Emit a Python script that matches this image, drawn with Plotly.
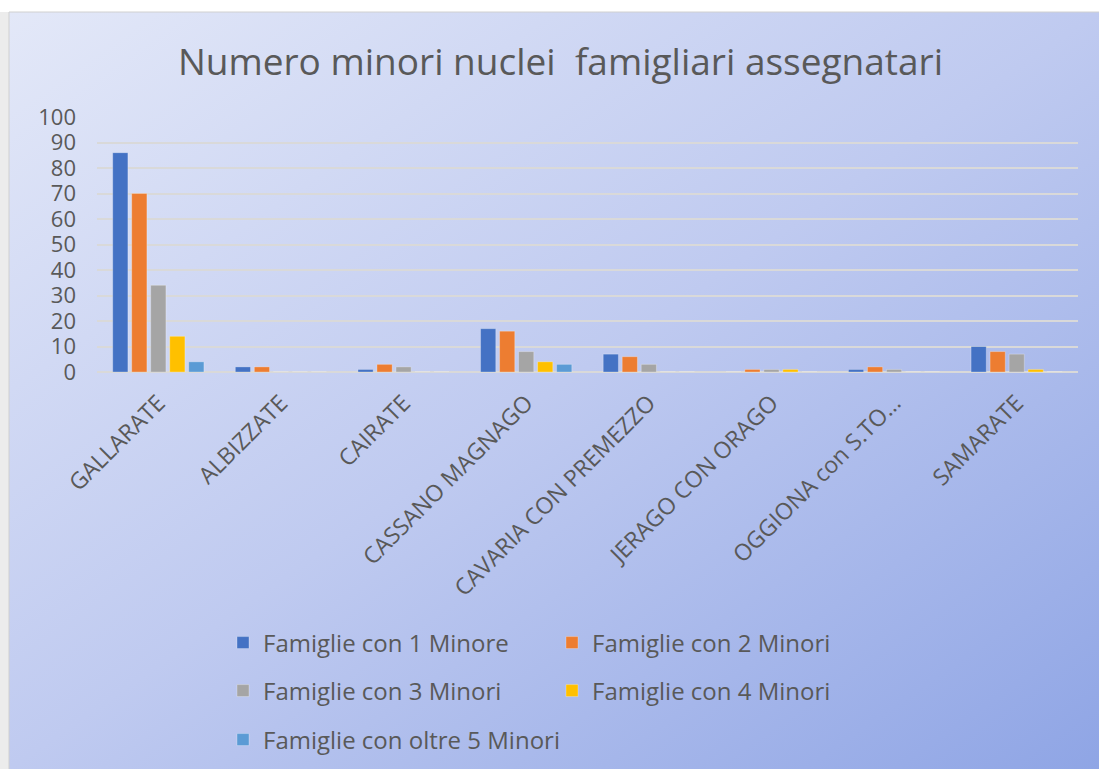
import base64
import plotly.graph_objects as go

# Comuni (categorie sull'asse x)
comuni = [
    "GALLARATE", "ALBIZZATE", "CAIRATE", "CASSANO MAGNAGO",
    "CAVARIA CON PREMEZZO", "JERAGO CON ORAGO", "OGGIONA con S.TO…", "SAMARATE",
]

# Numero di nuclei familiari per numero di minori
famiglie_1_minore = [86, 2, 1, 17, 7, 0, 1, 10]
famiglie_2_minori = [70, 2, 3, 16, 6, 1, 2, 8]
famiglie_3_minori = [34, 0, 2, 8, 3, 1, 1, 7]
famiglie_4_minori = [14, 0, 0, 4, 0, 1, 0, 1]
famiglie_oltre_5_minori = [4, 0, 0, 3, 0, 0, 0, 0]

y_ticks = list(range(0, 101, 10))

series = [
    ("Famiglie con 1 Minore", famiglie_1_minore, "#4472c4", "legend"),
    ("Famiglie con 2 Minori", famiglie_2_minori, "#ed7d31", "legend"),
    ("Famiglie con 3 Minori", famiglie_3_minori, "#a5a5a5", "legend2"),
    ("Famiglie con 4 Minori", famiglie_4_minori, "#ffc000", "legend2"),
    ("Famiglie con oltre 5 Minori", famiglie_oltre_5_minori, "#5b9bd5", "legend3"),
]

TEXT = "#595959"
FONT = "Open Sans"
W, H = 1099, 769
ML, MR, MT, MB = 97, 21, 117, 397
plot_w = W - ML - MR
plot_h = H - MT - MB


def px_x(px):
    return (px - ML) / plot_w


def px_y(py):
    return (H - MB - py) / plot_h


fig = go.Figure()
for name, vals, color, leg in series:
    fig.add_trace(go.Bar(
        x=comuni, y=vals, name=name, legend=leg,
        marker=dict(color=color, line=dict(color="rgba(255,255,255,0.35)", width=0.8)),
    ))

# Sfondo a gradiente diagonale dell'area grafico
svg = (
    '<svg xmlns="http://www.w3.org/2000/svg" width="1091" height="757" '
    'viewBox="0 0 1091 757" preserveAspectRatio="none">'
    '<defs><linearGradient id="g" x1="0" y1="0" x2="1" y2="1">'
    '<stop offset="0" stop-color="#e3e8f8"/>'
    '<stop offset="0.5" stop-color="#bfcaf0"/>'
    '<stop offset="1" stop-color="#8fa5e5"/>'
    '</linearGradient></defs>'
    '<rect width="1091" height="757" fill="url(#g)"/></svg>'
)
svg_uri = "data:image/svg+xml;base64," + base64.b64encode(svg.encode()).decode()

bg_left, bg_top = 9, 12
fig.add_layout_image(
    source=svg_uri, xref="paper", yref="paper",
    x=px_x(bg_left), y=px_y(bg_top),
    sizex=(W - bg_left) / plot_w, sizey=(H - bg_top) / plot_h,
    xanchor="left", yanchor="top", sizing="stretch", layer="below",
)
# Bordo sottile dell'area grafico e fascia grigia a sinistra
fig.add_shape(
    type="rect", xref="paper", yref="paper",
    x0=px_x(0), x1=px_x(bg_left), y0=px_y(H + 5), y1=px_y(bg_top),
    line=dict(width=0), fillcolor="#ececec", layer="below",
)
fig.add_shape(
    type="rect", xref="paper", yref="paper",
    x0=px_x(bg_left), x1=px_x(W + 5), y0=px_y(H + 5), y1=px_y(bg_top),
    line=dict(color="#d0d0d0", width=1), fillcolor="rgba(0,0,0,0)", layer="below",
)

legend_common = dict(
    orientation="h", xanchor="left", yanchor="middle",
    x=px_x(223), entrywidthmode="pixels",
    font=dict(family=FONT, size=24, color=TEXT),
    bgcolor="rgba(0,0,0,0)", itemclick=False,
)

fig.update_layout(
    width=W, height=H,
    margin=dict(l=ML, r=MR, t=MT, b=MB, autoexpand=False),
    paper_bgcolor="white", plot_bgcolor="rgba(0,0,0,0)",
    barmode="group", bargap=0.225, bargroupgap=0.2,
    title=dict(
        text="Numero minori nuclei \u00a0famigliari assegnatari",
        x=0.51, xref="container", xanchor="center",
        y=1 - 62 / H, yref="container", yanchor="middle",
        font=dict(family=FONT, size=37, color=TEXT),
    ),
    showlegend=True,
    legend=dict(y=px_y(643), entrywidth=284, **legend_common),
    legend2=dict(y=px_y(691), entrywidth=284, **legend_common),
    legend3=dict(y=px_y(740), entrywidth=340, **legend_common),
    xaxis=dict(
        tickangle=-45, showgrid=False, showline=False, ticks="",
        tickfont=dict(family=FONT, size=23, color=TEXT),
        ticklabelstandoff=12,
    ),
    yaxis=dict(
        range=[0, 100], tickvals=y_ticks, showgrid=True,
        gridcolor="#d9d9d9", gridwidth=1.5,
        zeroline=True, zerolinecolor="#d9d9d9", zerolinewidth=1.5,
        showline=False, ticks="",
        tickfont=dict(family=FONT, size=22, color=TEXT),
        ticklabelstandoff=20,
    ),
)

fig.write_html("out.html")
